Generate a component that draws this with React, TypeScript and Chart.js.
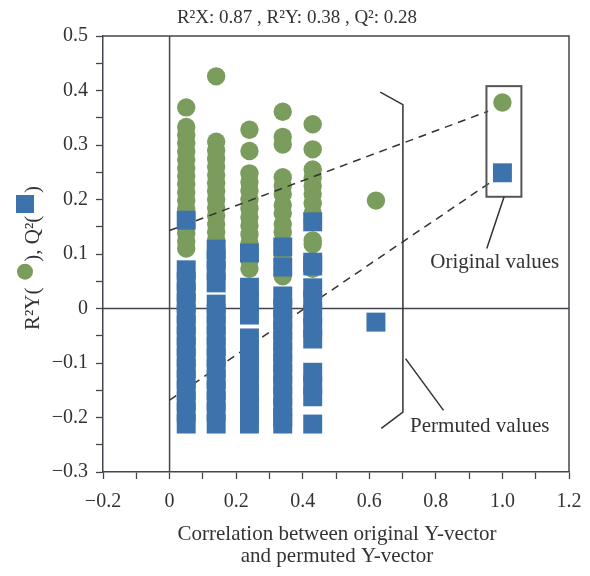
import React, { useEffect, useRef } from 'react';
import { Chart, registerables } from 'chart.js';

Chart.register(...registerables);

// Correlation between original and permuted Y-vector (x positions of the columns)
const corrX = [0.05, 0.14, 0.24, 0.34, 0.43, 0.62, 1.0];

// R2Y values (green circles), one array per column
const r2yCol1 = [0.369, 0.333, 0.318, 0.303, 0.288, 0.273, 0.258, 0.243, 0.228, 0.213, 0.198, 0.183, 0.168, 0.153, 0.138, 0.123, 0.11];
const r2yCol2 = [0.426, 0.306, 0.29, 0.275, 0.26, 0.245, 0.23, 0.215, 0.2, 0.185, 0.17, 0.155, 0.14, 0.125, 0.11];
const r2yCol3 = [0.328, 0.289, 0.248, 0.232, 0.216, 0.2, 0.184, 0.168, 0.152, 0.136, 0.12, 0.104, 0.088, 0.073];
const r2yCol4 = [0.361, 0.315, 0.301, 0.241, 0.225, 0.21, 0.19, 0.175, 0.155, 0.14, 0.12, 0.105, 0.09, 0.075, 0.059];
const r2yCol5 = [0.338, 0.292, 0.255, 0.24, 0.225, 0.21, 0.193, 0.175, 0.16, 0.125, 0.118, 0.073];
const r2yCol6 = [0.198];
const r2yOriginal = [0.378];

// Q2 values (blue squares), one array per column
const q2Col1 = [0.162, 0.071, 0.05, 0.03, 0.01, -0.01, -0.03, -0.05, -0.07, -0.09, -0.11, -0.13, -0.15, -0.17, -0.19, -0.212];
const q2Col2 = [0.109, 0.09, 0.07, 0.047, 0.008, -0.01, -0.03, -0.05, -0.07, -0.09, -0.11, -0.13, -0.15, -0.17, -0.19, -0.212];
const q2Col3 = [0.102, 0.039, 0.014, -0.012, -0.054, -0.075, -0.095, -0.115, -0.135, -0.155, -0.175, -0.195, -0.212];
const q2Col4 = [0.113, 0.076, 0.023, 0.0, -0.02, -0.04, -0.06, -0.08, -0.1, -0.12, -0.14, -0.16, -0.18, -0.2, -0.212];
const q2Col5 = [0.159, 0.085, 0.078, 0.038, 0.015, -0.01, -0.035, -0.056, -0.117, -0.14, -0.162, -0.212];
const q2Col6 = [-0.025];
const q2Original = [0.249];

// Regression lines (intercept at x=0, end near the original values)
const r2FitX = [0, 0.957];
const r2FitY = [0.143, 0.362];
const q2FitX = [0, 0.97];
const q2FitY = [-0.168, 0.234];

// Axis ticks
const xMin = -0.2, xMax = 1.2, xStep = 0.1;
const yMin = -0.3, yMax = 0.5, yStep = 0.05;

const titleText = 'R\u00b2X: 0.87 , R\u00b2Y: 0.38 , Q\u00b2: 0.28';
const xTitleLines = ['Correlation between original Y-vector', 'and permuted Y-vector'];

const GREEN = '#7a9c5d';
const BLUE = '#3d73ad';
const AXIS = '#45454f';
const TEXT = '#333333';
const FONT = '"Liberation Serif", "DejaVu Serif", serif';

const r2yCols = [r2yCol1, r2yCol2, r2yCol3, r2yCol4, r2yCol5, r2yCol6, r2yOriginal];
const q2Cols = [q2Col1, q2Col2, q2Col3, q2Col4, q2Col5, q2Col6, q2Original];

function toPoints(cols: number[][]) {
  const pts: { x: number; y: number }[] = [];
  cols.forEach((vals, i) => vals.forEach((v) => pts.push({ x: corrX[i], y: v })));
  return pts;
}

function fmt(v: number) {
  const r = Math.round(v * 10) / 10;
  if (Math.abs(r) < 1e-9) return '0';
  const s = Math.abs(r).toFixed(1);
  return r < 0 ? '\u2212' + s : s;
}

const annotationPlugin = {
  id: 'annot',
  beforeDatasetsDraw(chart: any) {
    const { ctx, chartArea, scales } = chart;
    const x0 = scales.x.getPixelForValue(0);
    const y0 = scales.y.getPixelForValue(0);
    ctx.save();
    ctx.strokeStyle = AXIS;
    ctx.lineWidth = 1.5;
    ctx.beginPath();
    ctx.moveTo(x0, chartArea.top);
    ctx.lineTo(x0, chartArea.bottom);
    ctx.moveTo(chartArea.left, y0);
    ctx.lineTo(chartArea.right, y0);
    ctx.stroke();
    ctx.restore();
  },
  afterDraw(chart: any) {
    const { ctx, chartArea, scales } = chart;
    const px = (v: number) => scales.x.getPixelForValue(v);
    const py = (v: number) => scales.y.getPixelForValue(v);
    ctx.save();
    // frame top & right
    ctx.strokeStyle = AXIS;
    ctx.lineWidth = 1.5;
    ctx.beginPath();
    ctx.moveTo(chartArea.left, chartArea.top);
    ctx.lineTo(chartArea.right, chartArea.top);
    ctx.lineTo(chartArea.right, chartArea.bottom);
    ctx.stroke();

    // box around original values
    ctx.strokeStyle = '#555555';
    ctx.lineWidth = 2;
    ctx.strokeRect(px(0.952), py(0.408), px(1.057) - px(0.952), py(0.205) - py(0.408));

    // leader lines and bracket
    ctx.strokeStyle = '#333333';
    ctx.lineWidth = 1.5;
    ctx.beginPath();
    ctx.moveTo(px(1.005), py(0.205));
    ctx.lineTo(px(0.953), py(0.11));
    // bracket
    ctx.moveTo(px(0.633), py(0.397));
    ctx.lineTo(px(0.701), py(0.374));
    ctx.lineTo(px(0.701), py(-0.19));
    ctx.lineTo(px(0.636), py(-0.22));
    // permuted leader
    ctx.moveTo(px(0.709), py(-0.092));
    ctx.lineTo(px(0.823), py(-0.187));
    ctx.stroke();

    ctx.fillStyle = TEXT;
    ctx.font = `21px ${FONT}`;
    ctx.textAlign = 'center';
    ctx.textBaseline = 'alphabetic';
    ctx.fillText('Original values', px(0.977), py(0.075));
    ctx.fillText('Permuted values', px(0.932), py(-0.227));

    // x title
    ctx.fillText(xTitleLines[0], 337, 540);
    ctx.fillText(xTitleLines[1], 337, 562);

    // title
    ctx.font = `19px ${FONT}`;
    ctx.fillText(titleText, 297, 23);

    // y title rotated
    ctx.translate(39, 330);
    ctx.rotate(-Math.PI / 2);
    ctx.textAlign = 'left';
    ctx.font = `21px ${FONT}`;
    const s1 = 'R\u00b2Y(';
    ctx.fillText(s1, 0, 0);
    const cPos = 330 - 271.7;
    ctx.fillStyle = GREEN;
    ctx.beginPath();
    ctx.arc(cPos, -14, 8, 0, Math.PI * 2);
    ctx.fill();
    ctx.fillStyle = TEXT;
    const s2 = '), Q\u00b2(';
    const s2x = cPos + 10;
    ctx.fillText(s2, s2x, 0);
    const sqPos = 330 - 204;
    ctx.fillStyle = BLUE;
    ctx.fillRect(sqPos - 9, -14 - 9, 18, 18);
    ctx.fillStyle = TEXT;
    ctx.fillText(')', sqPos + 11, 0);
    ctx.restore();
  },
};

export default function App() {
  const ref = useRef<HTMLCanvasElement | null>(null);
  useEffect(() => {
    document.body.style.margin = '0';
    const canvas = ref.current;
    if (!canvas) return;
    const chart = new Chart(canvas, {
      type: 'scatter',
      data: {
        datasets: [
          {
            label: 'Q2',
            data: toPoints(q2Cols),
            pointStyle: 'rect',
            pointRadius: 13.4,
            pointHoverRadius: 13.4,
            pointBackgroundColor: BLUE,
            pointBorderColor: BLUE,
            pointBorderWidth: 0,
            backgroundColor: BLUE,
            borderColor: BLUE,
            borderWidth: 0,
            order: 0,
          } as any,
          {
            label: 'R2 fit',
            data: r2FitX.map((x, i) => ({ x, y: r2FitY[i] })),
            showLine: true,
            borderColor: '#333333',
            borderWidth: 1.5,
            borderDash: [8, 6],
            pointRadius: 0,
            order: 1,
          } as any,
          {
            label: 'Q2 fit',
            data: q2FitX.map((x, i) => ({ x, y: q2FitY[i] })),
            showLine: true,
            borderColor: '#333333',
            borderWidth: 1.5,
            borderDash: [8, 6],
            pointRadius: 0,
            order: 1,
          } as any,
          {
            label: 'R2Y',
            data: toPoints(r2yCols),
            pointStyle: 'circle',
            pointRadius: 9.2,
            pointHoverRadius: 9.2,
            pointBackgroundColor: GREEN,
            pointBorderColor: GREEN,
            pointBorderWidth: 0,
            backgroundColor: GREEN,
            borderColor: GREEN,
            borderWidth: 0,
            order: 2,
          } as any,
        ],
      },
      options: {
        responsive: false,
        animation: false,
        devicePixelRatio: 1,
        events: [],
        layout: { padding: { top: 36, right: 21, left: 0, bottom: 0 } },
        plugins: {
          legend: { display: false },
          tooltip: { enabled: false },
          title: { display: false },
        },
        scales: {
          x: {
            type: 'linear',
            min: xMin,
            max: xMax,
            ticks: {
              stepSize: xStep,
              autoSkip: false,
              maxRotation: 0,
              padding: 11,
              color: TEXT,
              font: { family: FONT, size: 20 },
              callback: (v: any) => {
                const n = Number(v);
                return Math.abs(n * 5 - Math.round(n * 5)) < 1e-6 ? fmt(n) : '';
              },
            },
            grid: { drawOnChartArea: false, drawTicks: true, tickLength: 7, tickColor: AXIS, tickWidth: 1.3 },
            border: { display: true, color: AXIS, width: 1.5 },
            afterFit: (s: any) => {
              s.height = 104;
              s.paddingLeft = 0;
              s.paddingRight = 0;
            },
          },
          y: {
            type: 'linear',
            min: yMin,
            max: yMax,
            ticks: {
              stepSize: yStep,
              autoSkip: false,
              padding: 8,
              color: TEXT,
              font: { family: FONT, size: 20 },
              callback: (v: any) => {
                const n = Number(v);
                return Math.abs(n * 10 - Math.round(n * 10)) < 1e-6 ? fmt(n) : '';
              },
            },
            grid: { drawOnChartArea: false, drawTicks: true, tickLength: 7, tickColor: AXIS, tickWidth: 1.3 },
            border: { display: true, color: AXIS, width: 1.5 },
            afterFit: (s: any) => {
              s.width = 103;
              s.paddingTop = 0;
              s.paddingBottom = 0;
            },
          },
        },
      } as any,
      plugins: [annotationPlugin],
    });
    return () => chart.destroy();
  }, []);
  return (
    <div style={{ position: 'absolute', left: 0, top: 0, width: 590, height: 576 }}>
      <canvas ref={ref} width={590} height={576} style={{ display: 'block' }} />
    </div>
  );
}
